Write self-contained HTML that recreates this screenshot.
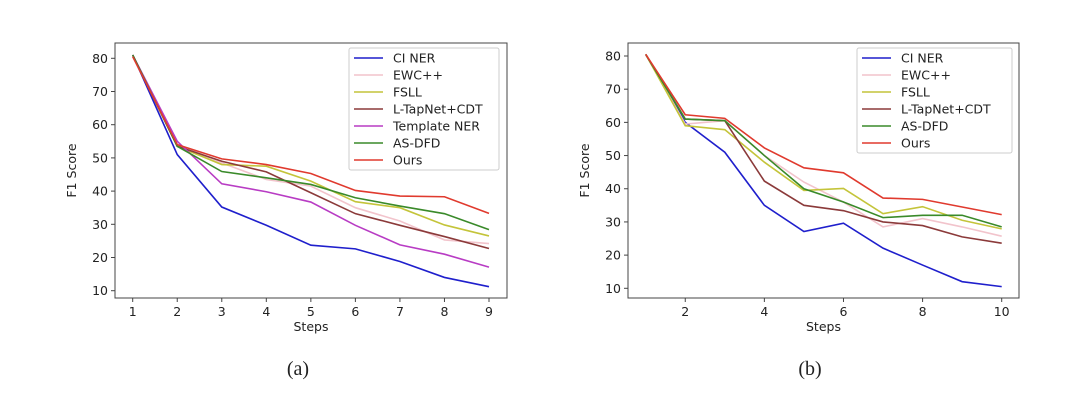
<!DOCTYPE html>
<html><head><meta charset="utf-8"><style>
body{margin:0;background:#fff;width:1080px;height:405px;overflow:hidden}
svg{display:block}
text{font-family:"DejaVu Sans","Liberation Sans",sans-serif;fill:#222}
</style></head><body>
<svg id="s" width="1080" height="405"></svg>
<script>
const namesA=["CI NER","EWC++","FSLL","L-TapNet+CDT","Template NER","AS-DFD","Ours"];
const colorsA=["#1f1fcc","#f2c4cc","#c4c43a","#8b3a3a","#b83cc4","#3a8a2a","#e03a2e"];
const stepsA=[1,2,3,4,5,6,7,8,9];
const ciA=[81,51,35.2,29.7,23.7,22.6,18.8,14,11.2];
const ewcA=[81,54,48.5,43.5,41.5,35,31,25.3,24.2];
const fsllA=[81,53.5,48,47.5,43,36.8,35,29.8,26.5];
const tapA=[81,53.5,49,45.8,39.5,33.2,29.7,26.3,22.7];
const tmplA=[81,55,42.2,39.8,36.7,29.7,23.8,21,17.1];
const asA=[81,53.5,45.9,44,42,38,35.5,33.2,28.4];
const oursA=[80.5,54,49.7,48,45.3,40.2,38.5,38.3,33.3];
const namesB=["CI NER","EWC++","FSLL","L-TapNet+CDT","AS-DFD","Ours"];
const colorsB=["#1f1fcc","#f2c4cc","#c4c43a","#8b3a3a","#3a8a2a","#e03a2e"];
const stepsB=[1,2,3,4,5,6,7,8,9,10];
const ciB=[80.5,60,51,35,27.1,29.6,22.1,17,12,10.5];
const ewcB=[80.5,59.5,60.5,50,42,36,28.5,31,28.5,25.7];
const fsllB=[80.5,59,57.8,48,39.5,40.1,32.5,34.6,30.5,27.9];
const tapB=[80.5,61,60.5,42.3,35,33.4,30,28.9,25.5,23.6];
const asB=[80.5,61,60.5,50,40,36,31.3,32,32,28.5];
const oursB=[80.5,62.3,61.2,52.3,46.3,44.8,37.2,36.8,34.5,32.2];
const yTicks=[10,20,30,40,50,60,70,80];
const xTicksA=[1,2,3,4,5,6,7,8,9];
const xTicksB=[2,4,6,8,10];
const NS="http://www.w3.org/2000/svg";
const svg=document.getElementById('s');
function el(t,a,p){const e=document.createElementNS(NS,t);for(const k in a)e.setAttribute(k,a[k]);(p||svg).appendChild(e);return e;}
function chart(o){
  const g=el('g',{});
  
  
  const X=v=>o.x1px+(v-o.x1)*(o.x2px-o.x1px)/(o.x2-o.x1);
  const Y=v=>o.y10+(v-10)*(o.y80-o.y10)/70;
  el('rect',{x:o.L,y:o.T,width:o.R-o.L,height:o.B-o.T,fill:'none',stroke:'#444','stroke-width':1},g);
  yTicks.forEach(t=>{el('line',{x1:o.L-4,x2:o.L,y1:Y(t),y2:Y(t),stroke:'#444'},g);
    const tx=el('text',{x:o.L-7,y:Y(t)+4.5,'text-anchor':'end','font-size':12.5},g);tx.textContent=t;
    });
  o.xt.forEach(t=>{el('line',{x1:X(t),x2:X(t),y1:o.B,y2:o.B+4,stroke:'#444'},g);
    const tx=el('text',{x:X(t),y:o.B+18,'text-anchor':'middle','font-size':12.5},g);tx.textContent=t;
    });
  const xl=el('text',{x:(o.L+o.R)/2,y:o.B+33,'text-anchor':'middle','font-size':12.5},g);xl.textContent='Steps';
  
  const yl=el('text',{x:0,y:0,'text-anchor':'middle','font-size':12.5,transform:`translate(${o.L-39},${(o.T+o.B)/2}) rotate(-90)`},g);yl.textContent='F1 Score';
  
  o.series.forEach((s,i)=>{
    const p=el('polyline',{points:s.map((v,j)=>X(o.steps[j])+','+Y(v)).join(' '),fill:'none',stroke:o.colors[i],'stroke-width':1.6},g);
    
    
  });
  const lg=el('g',{},g);
  
  
  el('rect',{x:o.lx,y:o.ly,width:o.lw,height:o.names.length*17+3,fill:'#fff',stroke:'#ccc',rx:2},lg);
  o.names.forEach((n,i)=>{const yy=o.ly+10+i*17;
    el('line',{x1:o.lx+5,x2:o.lx+34,y1:yy,y2:yy,stroke:o.colors[i],'stroke-width':1.6},lg);
    const t=el('text',{x:o.lx+44,y:yy+4.5,'font-size':12.5},lg);t.textContent=n;
    });
  const c=el('text',{x:o.cx,y:375,'text-anchor':'middle','font-size':20,style:'font-family:"Liberation Serif",serif'},g);c.textContent=o.cap;
  
}
chart({id:'chart-a',L:115,R:507,T:43,B:298,x1:1,x2:9,x1px:132.7,x2px:489,y10:290.7,y80:58.3,xt:xTicksA,steps:stepsA,
  series:[ciA,ewcA,fsllA,tapA,tmplA,asA,oursA],names:namesA,colors:colorsA,lx:349,ly:48,lw:150,cx:298,cap:'(a)'});
chart({id:'chart-b',L:628,R:1019,T:43,B:298,x1:1,x2:10,x1px:645.7,x2px:1001.7,y10:288.3,y80:56,xt:xTicksB,steps:stepsB,
  series:[ciB,ewcB,fsllB,tapB,asB,oursB],names:namesB,colors:colorsB,lx:857,ly:48,lw:155,cx:810,cap:'(b)'});
</script>
</body></html>
